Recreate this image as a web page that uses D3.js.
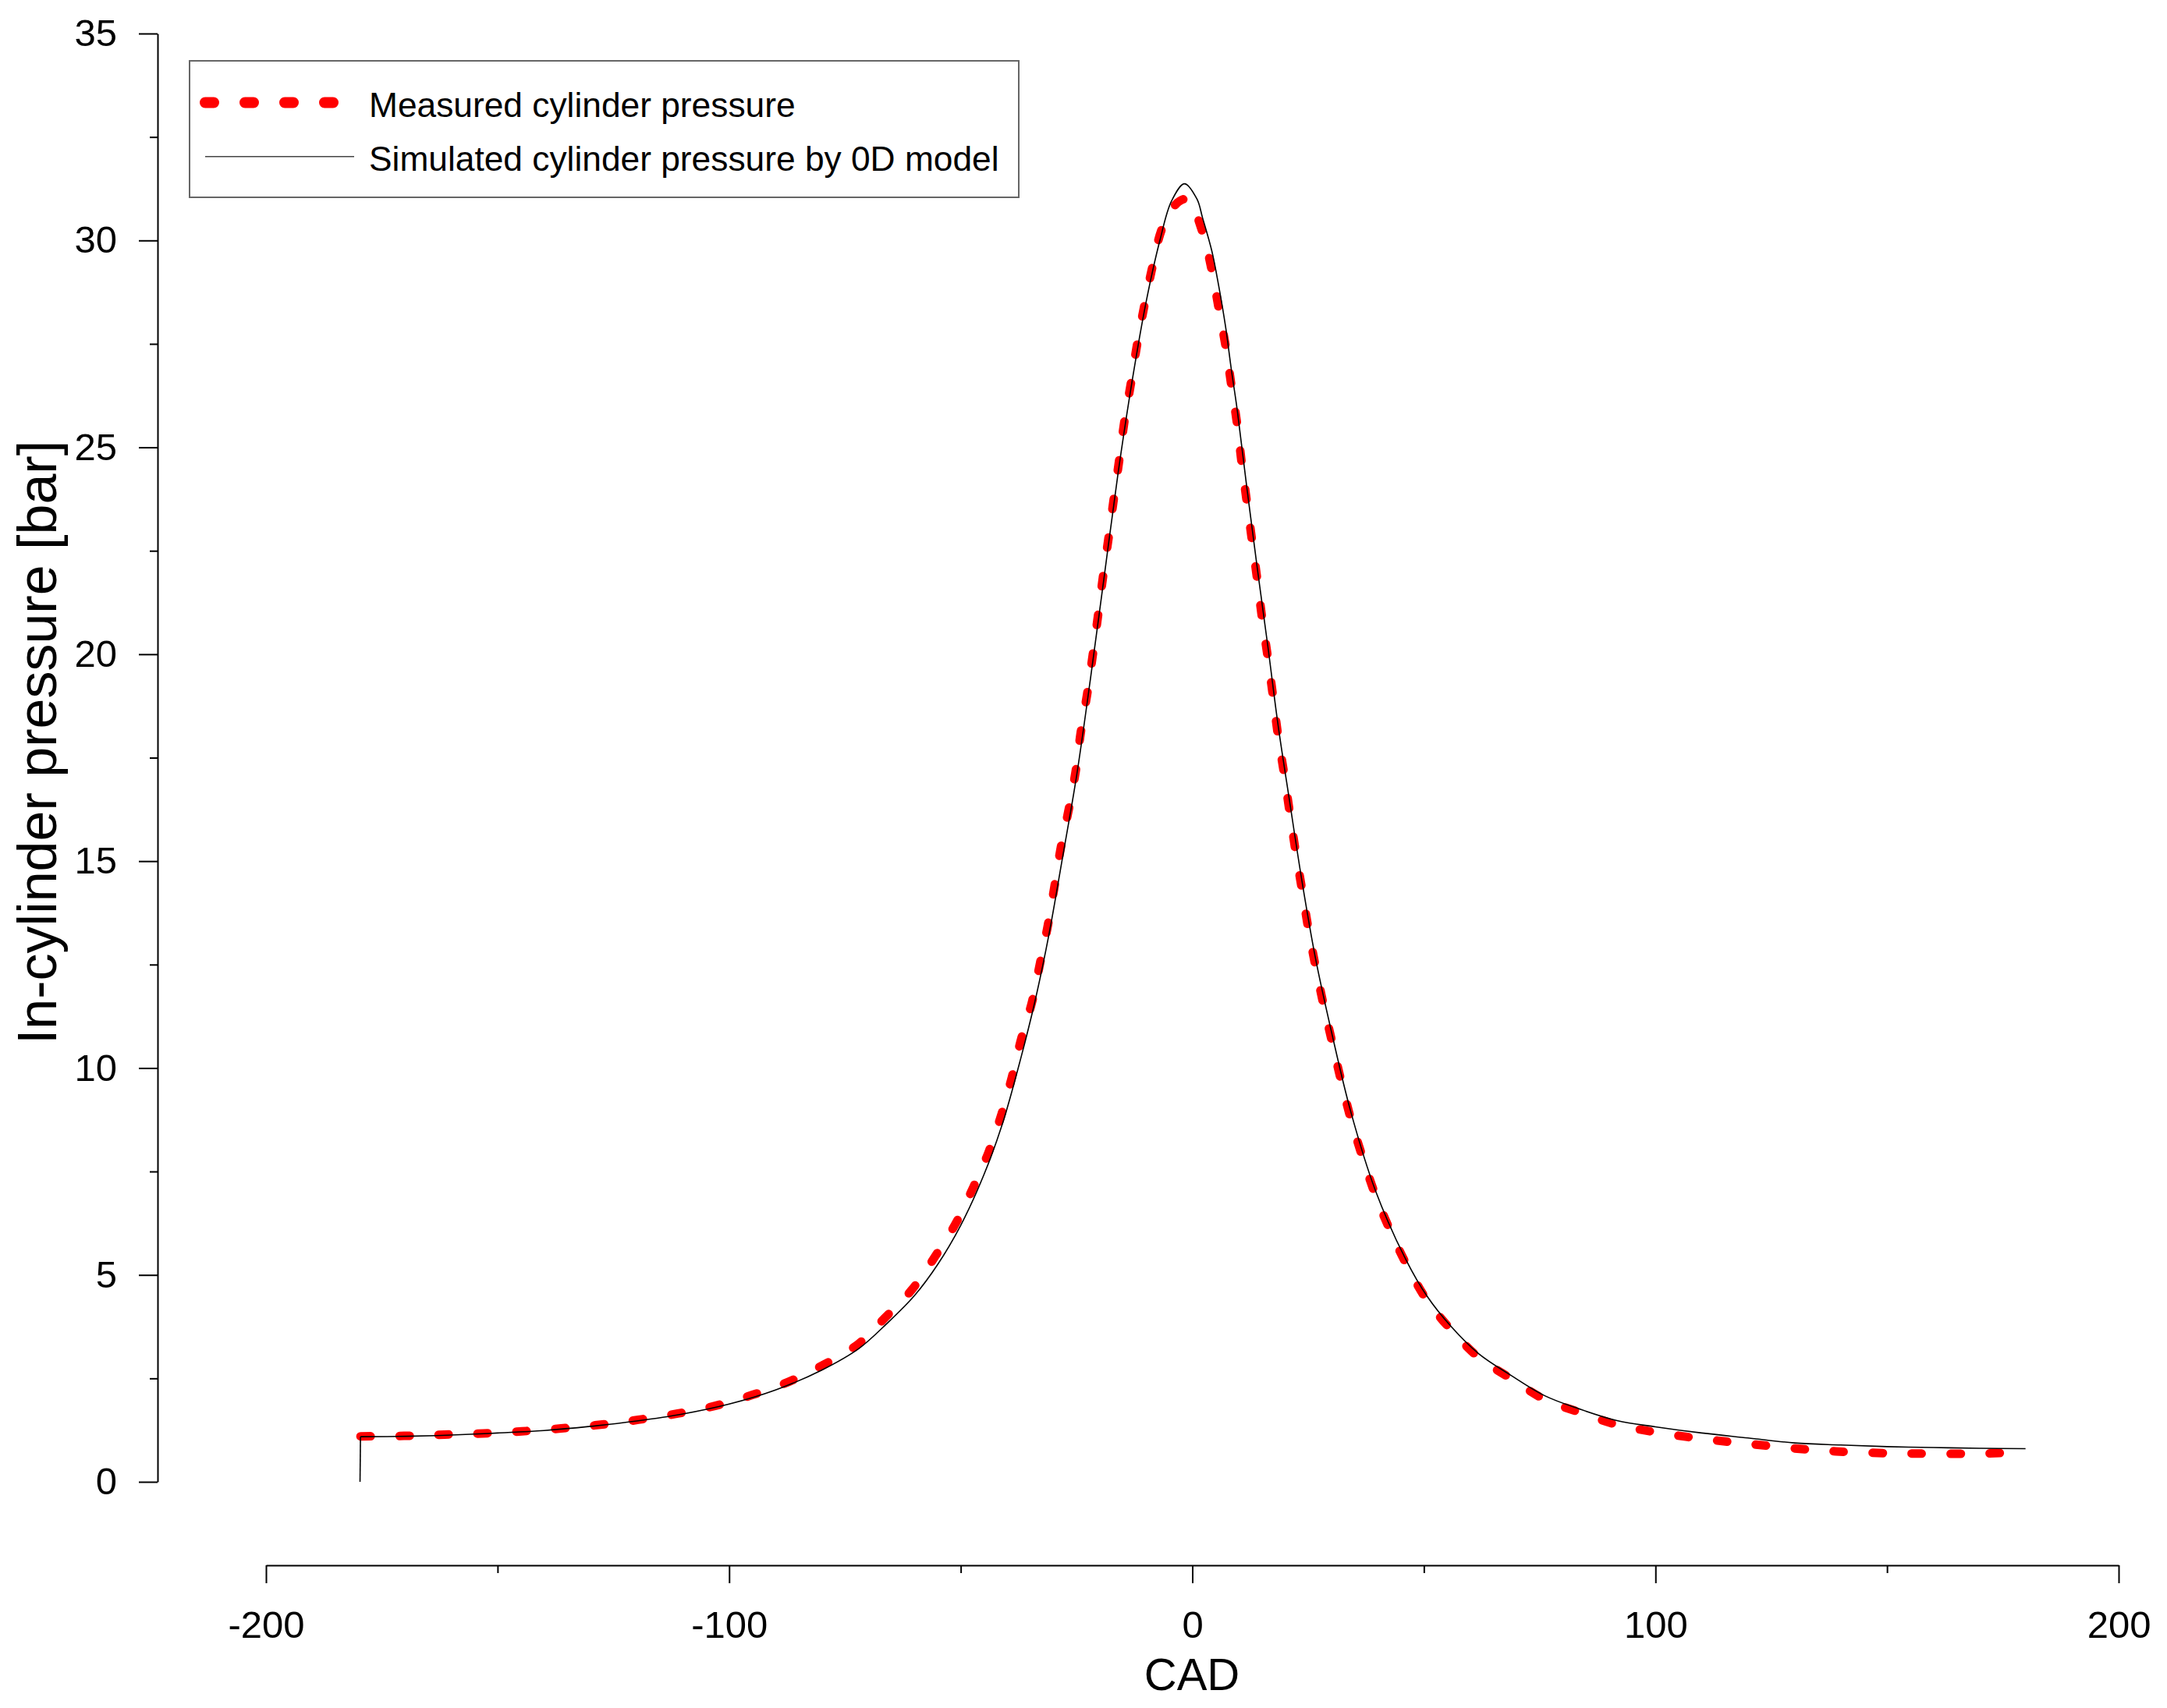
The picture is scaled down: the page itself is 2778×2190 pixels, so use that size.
<!DOCTYPE html>
<html><head><meta charset="utf-8">
<script src="https://cdn.jsdelivr.net/npm/d3@7"></script>
<style>body{margin:0;background:#fff}</style>
</head><body><svg id="c" width="2778" height="2190" xmlns="http://www.w3.org/2000/svg"></svg>
<script>
// ---------- data ----------
const xTicks = [-200, -100, 0, 100, 200];
const xMinorTicks = [-150, -50, 50, 150];
const yTicks = [0, 5, 10, 15, 20, 25, 30, 35];
const yMinorTicks = [2.5, 7.5, 12.5, 17.5, 22.5, 27.5, 32.5];
const seriesNames = ["Measured cylinder pressure", "Simulated cylinder pressure by 0D model"];
const xTitle = "CAD";
const yTitle = "In-cylinder pressure [bar]";

const measCad = [-179.6,-170.2,-161.5,-153.2,-144.8,-136.3,-127.8,-119.6,-111.1,-102.9,-95.0,-87.1,-79.6,-72.1,-66.4,-60.5,-55.4,-51.1,-47.2,-44.0,-41.2,-38.9,-36.9,-34.6,-32.9,-31.2,-29.8,-28.4,-26.7,-25.2,-24.1,-22.7,-21.5,-20.4,-19.3,-18.1,-17.0,-15.8,-14.7,-13.3,-11.9,-10.4,-8.7,-6.7,-4.5,-2.3,-0.8,2.2,4.2,5.7,7.2,8.4,9.7,10.7,11.8,12.9,14.0,15.1,16.3,17.4,18.5,19.8,21.0,22.3,23.7,25.0,26.6,28.3,30.2,32.1,34.2,36.7,39.5,42.7,46.2,50.6,55.9,61.8,68.7,76.1,83.6,91.7,100,110,120,134,142,151,159,168,176,179.5];
const measP = [1.10,1.11,1.14,1.17,1.22,1.29,1.38,1.50,1.65,1.84,2.10,2.42,2.83,3.33,3.96,4.65,5.47,6.24,7.14,7.96,8.88,9.80,10.72,11.6,12.52,13.44,14.36,15.32,16.24,17.16,18.1,19.04,19.98,20.9,21.86,22.8,23.72,24.68,25.6,26.52,27.5,28.4,29.32,30.24,30.75,30.98,30.98,30.2,29.28,28.36,27.44,26.52,25.54,24.58,23.66,22.74,21.82,20.84,19.92,19.0,18.04,17.12,16.2,15.24,14.3,13.4,12.46,11.54,10.62,9.7,8.78,7.86,6.94,6.08,5.26,4.40,3.67,3.01,2.50,1.99,1.68,1.38,1.20,1.04,0.92,0.77,0.72,0.69,0.68,0.68,0.70,0.71];

const simCad = [-179.7,-179.6,-170,-160,-150,-140,-130,-120,-110,-100,-90,-80,-72,-66,-60,-55,-50,-45,-41,-37,-34,-31,-28,-25,-22,-19,-16,-13,-10,-7,-4.5,-1.7,1,2.2,4.2,5.7,7.2,8.4,9.7,11.8,14.0,16.3,18.5,21.0,23.7,26.6,30.2,34.2,39.5,46.2,50.6,55.9,61.8,68.7,76.1,83.6,91.7,100,110,120,130,140,150,160,170,179.9];
const simP = [0,1.09,1.10,1.13,1.18,1.24,1.34,1.47,1.64,1.88,2.22,2.70,3.22,3.82,4.50,5.25,6.20,7.42,8.65,10.25,11.6,13.2,15.1,17.05,19.4,21.9,24.4,26.6,28.5,30.0,30.95,31.37,31.0,30.55,29.75,28.9,27.9,26.9,25.9,24.0,22.1,20.2,18.3,16.45,14.5,12.65,10.8,8.95,7.05,5.35,4.5,3.75,3.1,2.58,2.08,1.76,1.48,1.33,1.18,1.06,0.94,0.89,0.85,0.83,0.81,0.80];

// ---------- drawing ----------
const FONT = "'Liberation Sans', Arial, Helvetica, sans-serif";
const svg = d3.select("#c");
const x = d3.scaleLinear().domain([-200, 200]).range([341, 2716]);
const y = d3.scaleLinear().domain([0, 35]).range([1900, 43]);
const fmt = d => String(d);

// Y axis
svg.append("g").attr("transform", "translate(202,0)")
  .call(d3.axisLeft(y).tickValues(yTicks).tickSize(24).tickSizeOuter(0).tickPadding(28).tickFormat(fmt));
svg.append("g").attr("transform", "translate(202,0)")
  .call(d3.axisLeft(y).tickValues(yMinorTicks).tickSize(10).tickSizeOuter(0).tickFormat(""))
  .select(".domain").remove();

// X axis (offset below plot)
svg.append("g").attr("transform", "translate(0,2007)")
  .call(d3.axisBottom(x).tickValues(xTicks).tickSize(23).tickSizeOuter(0).tickPadding(35).tickFormat(fmt));
svg.append("g").attr("transform", "translate(0,2007)")
  .call(d3.axisBottom(x).tickValues(xMinorTicks).tickSize(10).tickSizeOuter(0).tickFormat(""))
  .select(".domain").remove();

svg.selectAll(".domain").attr("stroke", "#000").attr("stroke-width", 2);
svg.selectAll(".tick line").attr("stroke", "#000").attr("stroke-width", 2);
svg.selectAll(".tick text").attr("font-family", FONT).attr("font-size", 49).attr("fill", "#000");

// Axis titles
svg.append("text").attr("x", 1528).attr("y", 2167).attr("text-anchor", "middle")
  .attr("font-family", FONT).attr("font-size", 58).text(xTitle);
svg.append("text").attr("transform", "translate(72,952) rotate(-90)").attr("text-anchor", "middle")
  .attr("font-family", FONT).attr("font-size", 70).text(yTitle);

// Lines
const meas = measCad.map((c, i) => [c, measP[i]]);
const sim = simCad.map((c, i) => [c, simP[i]]);
const lineCurve = d3.line().x(d => x(d[0])).y(d => y(d[1])).curve(d3.curveCatmullRom.alpha(0.5));
const lineLin = d3.line().x(d => x(d[0])).y(d => y(d[1]));

svg.append("path").attr("d", lineCurve(meas)).attr("fill", "none")
  .attr("stroke", "#ff0000").attr("stroke-width", 11).attr("stroke-linecap", "round")
  .attr("stroke-dasharray", "13,37");
svg.append("path").attr("d", lineLin(sim.slice(0, 2))).attr("fill", "none")
  .attr("stroke", "#000").attr("stroke-width", 1.6);
svg.append("path").attr("d", lineCurve(sim.slice(1))).attr("fill", "none")
  .attr("stroke", "#000").attr("stroke-width", 1.6);

// Legend
const lg = svg.append("g");
lg.append("rect").attr("x", 243).attr("y", 78).attr("width", 1063).attr("height", 175)
  .attr("fill", "#fff").attr("stroke", "#666").attr("stroke-width", 2);
lg.append("line").attr("x1", 263).attr("x2", 432).attr("y1", 131.5).attr("y2", 131.5)
  .attr("stroke", "#ff0000").attr("stroke-width", 14).attr("stroke-linecap", "round")
  .attr("stroke-dasharray", "11,40");
lg.append("line").attr("x1", 263).attr("x2", 454).attr("y1", 200.7).attr("y2", 200.7)
  .attr("stroke", "#444").attr("stroke-width", 1.6);
lg.append("text").attr("x", 473).attr("y", 150).attr("font-family", FONT).attr("font-size", 44.3).text(seriesNames[0]);
lg.append("text").attr("x", 473).attr("y", 219).attr("font-family", FONT).attr("font-size", 44.3).text(seriesNames[1]);
</script>
</body></html>
